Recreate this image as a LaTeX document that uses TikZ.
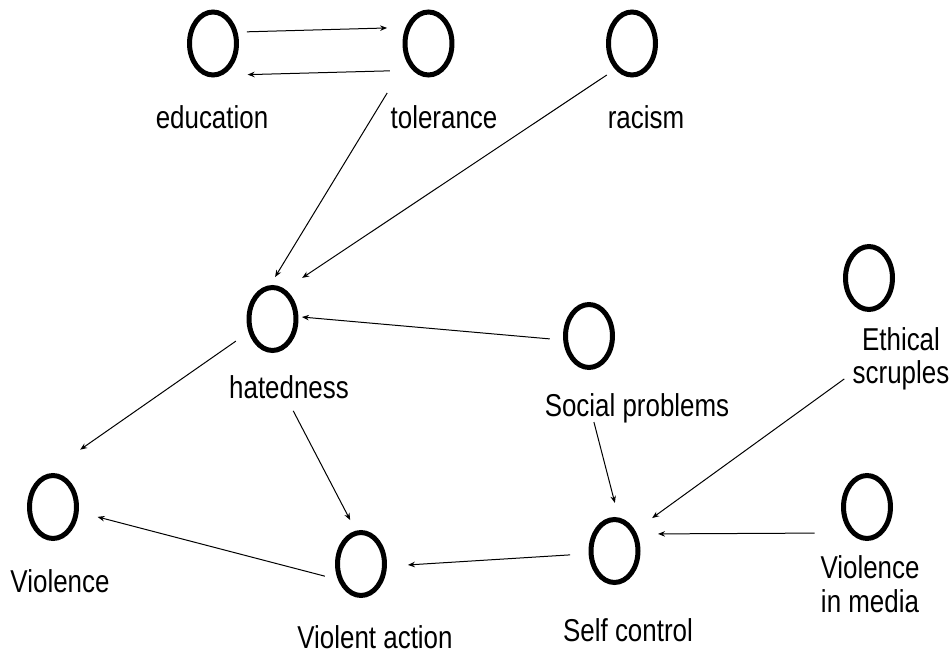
\documentclass[tikz,border=0pt]{standalone}
\usepackage{fontspec}
\setmainfont{Liberation Sans}[FakeStretch=0.82]
\usetikzlibrary{arrows.meta, shapes.geometric}

\begin{document}
\begin{tikzpicture}[x=0.02cm, y=-0.02cm,
    concept/.style={draw, ellipse, line width=1mm, minimum width=9.4mm, minimum height=12.6mm, inner sep=0pt},
    caption/.style={font=\fontsize{18}{19}\selectfont, align=center, inner sep=0pt, anchor=base},
    link/.style={-{Stealth[length=1.4mm, width=1.1mm]}, line width=0.2mm}]
    \useasboundingbox (0,0) rectangle (951,655);
    % Concepts
    \node[concept] (edu) at (213,43.5) {};
    \node[concept] (tol) at (428.5,43.5) {};
    \node[concept] (rac) at (632,43.5) {};
    \node[concept] (hat) at (272.5,319) {};
    \node[concept] (soc) at (589,336) {};
    \node[concept] (eth) at (869,278) {};
    \node[concept] (vio) at (53,507) {};
    \node[concept] (act) at (361,564) {};
    \node[concept] (ctl) at (614.5,551) {};
    \node[concept] (med) at (867,507) {};
    % Captions (base = last line)
    \node[caption] (edulbl) at (212,129) {education};
    \node[caption] (tollbl) at (444,129) {tolerance};
    \node[caption] (raclbl) at (646,129) {racism};
    \node[caption] (hatlbl) at (289,399) {hatedness};
    \node[caption] (soclbl) at (637,417) {Social problems};
    \node[caption] (ethlbl) at (901,384) {Ethical\\scruples};
    \node[caption] (violbl) at (60,592) {Violence};
    \node[caption] (actlbl) at (375,648) {Violent action};
    \node[caption] (ctllbl) at (628,641) {Self control};
    \node[caption] (medlbl) at (870,612) {Violence\\in media};
    % Links
    \draw[link, shorten <=1.9mm, shorten >=3.7mm] (edu.25) -- (tol.145);
    \draw[link, shorten <=4.5mm, shorten >=5.1mm] (tol.239) -- (edu.286);
    \draw[link, shorten <=7.4mm, shorten >=1.9mm] (tol.219) -- (hat.94);
    \draw[link, shorten <=2mm, shorten >=4.1mm] (rac.237) -- (hat.67);
    \draw[link, shorten <=2.7mm, shorten >=0.7mm] (soc.189) -- (hat.5);
    \draw[link, shorten <=3.1mm, shorten >=9.1mm] (hat.209) -- (vio.108);
    \draw[link, shorten <=13.8mm, shorten >=2.4mm] (hat.250) -- (act.99);
    \draw[link, shorten <=2.7mm, shorten >=3.9mm] (act.214) -- (vio.-11);
    \draw[link, shorten <=3.7mm, shorten >=4.2mm] (ctl.186) -- (act.-5);
    \draw[link, shorten <=11.2mm, shorten >=3mm] (soc.254) -- (ctl.83);
    \draw[link, shorten <=2mm, shorten >=4.2mm] (ethlbl.196) -- (ctl.45); % from the caption
    \draw[link, shorten <=7.1mm, shorten >=4.2mm] (med.237) -- (ctl.37);
\end{tikzpicture}
\end{document}
